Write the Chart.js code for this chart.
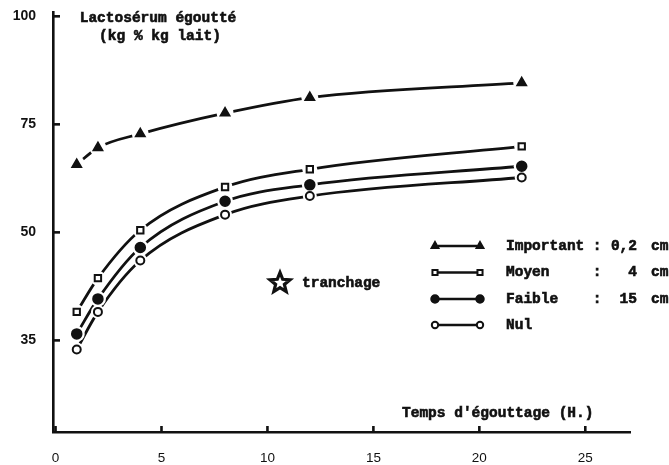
<!DOCTYPE html>
<html>
<head>
<meta charset="utf-8">
<script src="https://cdn.jsdelivr.net/npm/chart.js@4.4.1/dist/chart.umd.min.js"></script>
<style>
html, body { margin:0; padding:0; background:#fff; }
#wrap { width:669px; height:465px; }
</style>
</head>
<body>
<div id="wrap"><canvas id="egouttage" width="669" height="465"></canvas></div>
<script>
/* ================= DATA ================= */

const hours = [1, 2, 4, 8, 12, 22];

const important = [65.7, 69.6, 72.8, 77.6, 81.2, 84.6];
const moyen     = [31.6, 39.4, 50.5, 60.5, 64.6, 69.9];
const faible    = [26.5, 34.6, 46.5, 57.2, 61.0, 65.3];
const nul       = [22.9, 31.6, 43.5, 54.1, 58.4, 62.7];

const seriesNames  = ["Important", "Moyen", "Faible", "Nul"];
const seriesValues = ["0,2", "4", "15", ""];
const seriesUnits  = ["cm", "cm", "cm", ""];

const xTicks = [0, 5, 10, 15, 20, 25];
const yTicks = [25, 50, 75, 100];
const yTickLabels = ["35", "50", "75", "100"];

const yTitle = ["Lactosérum égoutté", "(kg % kg lait)"];
const xTitle = "Temps d'égouttage (H.)";
const noteText = "tranchage";

/* ================= STYLE ================= */

const INK = "#111";
const MONO = "bold 14.5px 'Liberation Mono', 'DejaVu Sans Mono', monospace";

const markers = [
    { pointStyle: "triangle", radius: 5.5, fill: INK,    border: 1.5 },
    { pointStyle: "rect",     radius: 4.5, fill: "#fff", border: 2 },
    { pointStyle: "circle",   radius: 5,   fill: INK,    border: 1.5 },
    { pointStyle: "circle",   radius: 4,   fill: "#fff", border: 2 }
];

function makeDataset(label, values, m) {
    return {
        label,
        data: hours.map((h, i) => ({ x: h, y: values[i] })),
        borderColor: INK,
        borderWidth: 2.8,
        cubicInterpolationMode: "monotone",
        pointStyle: m.pointStyle,
        pointRadius: m.radius,
        pointBackgroundColor: m.fill,
        pointBorderColor: INK,
        pointBorderWidth: m.border,
        fill: false
    };
}

/* ================= PLUGINS ================= */

// white halo around each marker so the curves stop short of the symbols
const haloPlugin = {
    id: "halo",
    afterDatasetsDraw(chart) {
        const ctx = chart.ctx;
        const metas = chart.getSortedVisibleDatasetMetas();
        ctx.save();
        ctx.fillStyle = "#fff";
        metas.forEach(meta => {
            meta.data.forEach(pt => {
                ctx.beginPath();
                ctx.arc(pt.x, pt.y, pt.options.radius + 3, 0, Math.PI * 2);
                ctx.fill();
            });
        });
        ctx.restore();
        metas.forEach(meta => {
            meta.data.forEach(pt => pt.draw(ctx, chart.chartArea));
        });
    }
};

function heavyText(ctx, txt, x, y) {
    ctx.fillText(txt, x, y);
    ctx.strokeText(txt, x, y);
}

// inward tick marks, titles, legend and note
const decorPlugin = {
    id: "decor",
    afterDraw(chart) {
        const ctx = chart.ctx;
        const xs = chart.scales.x;
        const ys = chart.scales.y;
        const area = chart.chartArea;

        ctx.save();
        ctx.strokeStyle = INK;
        ctx.lineWidth = 2.6;

        yTicks.forEach(v => {
            const y = ys.getPixelForValue(v);
            ctx.beginPath();
            ctx.moveTo(area.left, y);
            ctx.lineTo(area.left + 7, y);
            ctx.stroke();
        });
        xTicks.forEach(v => {
            const x = xs.getPixelForValue(v);
            ctx.beginPath();
            ctx.moveTo(x, area.bottom);
            ctx.lineTo(x, area.bottom - 6);
            ctx.stroke();
        });

        ctx.fillStyle = INK;
        ctx.strokeStyle = INK;
        ctx.lineWidth = 0.6;
        ctx.font = MONO;
        ctx.textBaseline = "middle";

        ctx.textAlign = "center";
        heavyText(ctx, yTitle[0], 158, 18);
        heavyText(ctx, yTitle[1], 160, 36);

        ctx.textAlign = "left";
        heavyText(ctx, xTitle, 402, 413);

        // star note
        drawStar(ctx, 280, 283, 10.5, 4.6);
        ctx.fillStyle = INK;
        ctx.strokeStyle = INK;
        ctx.lineWidth = 0.6;
        heavyText(ctx, noteText, 302, 283);

        // legend
        const rowY = [246, 272.5, 299, 325];
        chart.data.datasets.forEach((ds, i) => {
            const y = rowY[i];
            const m = markers[i];
            ctx.strokeStyle = INK;
            ctx.lineWidth = 2.4;
            ctx.beginPath();
            ctx.moveTo(438, y);
            ctx.lineTo(477, y);
            ctx.stroke();
            [435, 480].forEach(x => {
                ctx.fillStyle = m.fill;
                ctx.strokeStyle = INK;
                ctx.lineWidth = m.border;
                Chart.helpers.drawPoint(ctx, {
                    pointStyle: m.pointStyle,
                    radius: m.radius * 0.8,
                    rotation: 0,
                    borderWidth: m.border
                }, x, y);
            });
            ctx.fillStyle = INK;
            ctx.strokeStyle = INK;
            ctx.lineWidth = 0.6;
            ctx.textAlign = "left";
            heavyText(ctx, seriesNames[i], 506, y);
            if (seriesValues[i]) {
                ctx.textAlign = "center";
                heavyText(ctx, ":", 597, y);
                ctx.textAlign = "right";
                heavyText(ctx, seriesValues[i], 637, y);
                ctx.textAlign = "left";
                heavyText(ctx, seriesUnits[i], 651, y);
            }
        });
        ctx.restore();
    }
};

function drawStar(ctx, cx, cy, outer, inner) {
    ctx.save();
    ctx.beginPath();
    for (let i = 0; i < 10; i++) {
        const r = i % 2 === 0 ? outer : inner;
        const a = -Math.PI / 2 + i * Math.PI / 5;
        const px = cx + r * Math.cos(a);
        const py = cy + r * Math.sin(a);
        if (i === 0) ctx.moveTo(px, py); else ctx.lineTo(px, py);
    }
    ctx.closePath();
    ctx.strokeStyle = INK;
    ctx.lineWidth = 3.2;
    ctx.lineJoin = "miter";
    ctx.stroke();
    ctx.restore();
}

/* ================= CHART ================= */

new Chart(document.getElementById("egouttage").getContext("2d"), {
    type: "line",
    data: {
        datasets: [
            makeDataset(seriesNames[0], important, markers[0]),
            makeDataset(seriesNames[1], moyen, markers[1]),
            makeDataset(seriesNames[2], faible, markers[2]),
            makeDataset(seriesNames[3], nul, markers[3])
        ]
    },
    options: {
        responsive: false,
        animation: false,
        devicePixelRatio: 1,
        layout: { padding: { top: 12, right: 39, bottom: 0, left: 0 } },
        plugins: {
            legend: { display: false },
            tooltip: { enabled: false }
        },
        scales: {
            x: {
                type: "linear",
                min: -0.12,
                max: 27.11,
                afterBuildTicks: s => { s.ticks = xTicks.map(v => ({ value: v })); },
                afterFit: s => { s.height = 33; s.paddingLeft = 0; s.paddingRight = 0; },
                grid: { display: false, drawTicks: false },
                border: { display: true, color: INK, width: 2.6 },
                ticks: {
                    color: INK,
                    padding: 18,
                    maxRotation: 0,
                    font: { family: "'Liberation Sans', Arial, sans-serif", size: 13.5 }
                }
            },
            y: {
                type: "linear",
                min: 3.8,
                max: 101,
                afterBuildTicks: s => { s.ticks = yTicks.map(v => ({ value: v })); },
                afterFit: s => { s.width = 53; s.paddingTop = 0; s.paddingBottom = 0; },
                grid: { display: false, drawTicks: false },
                border: { display: true, color: INK, width: 2.6 },
                ticks: {
                    color: INK,
                    padding: 17,
                    callback: v => yTickLabels[yTicks.indexOf(v)],
                    font: { family: "'Liberation Sans', Arial, sans-serif", size: 14, weight: "bold" }
                }
            }
        }
    },
    plugins: [haloPlugin, decorPlugin]
});
</script>
</body>
</html>
